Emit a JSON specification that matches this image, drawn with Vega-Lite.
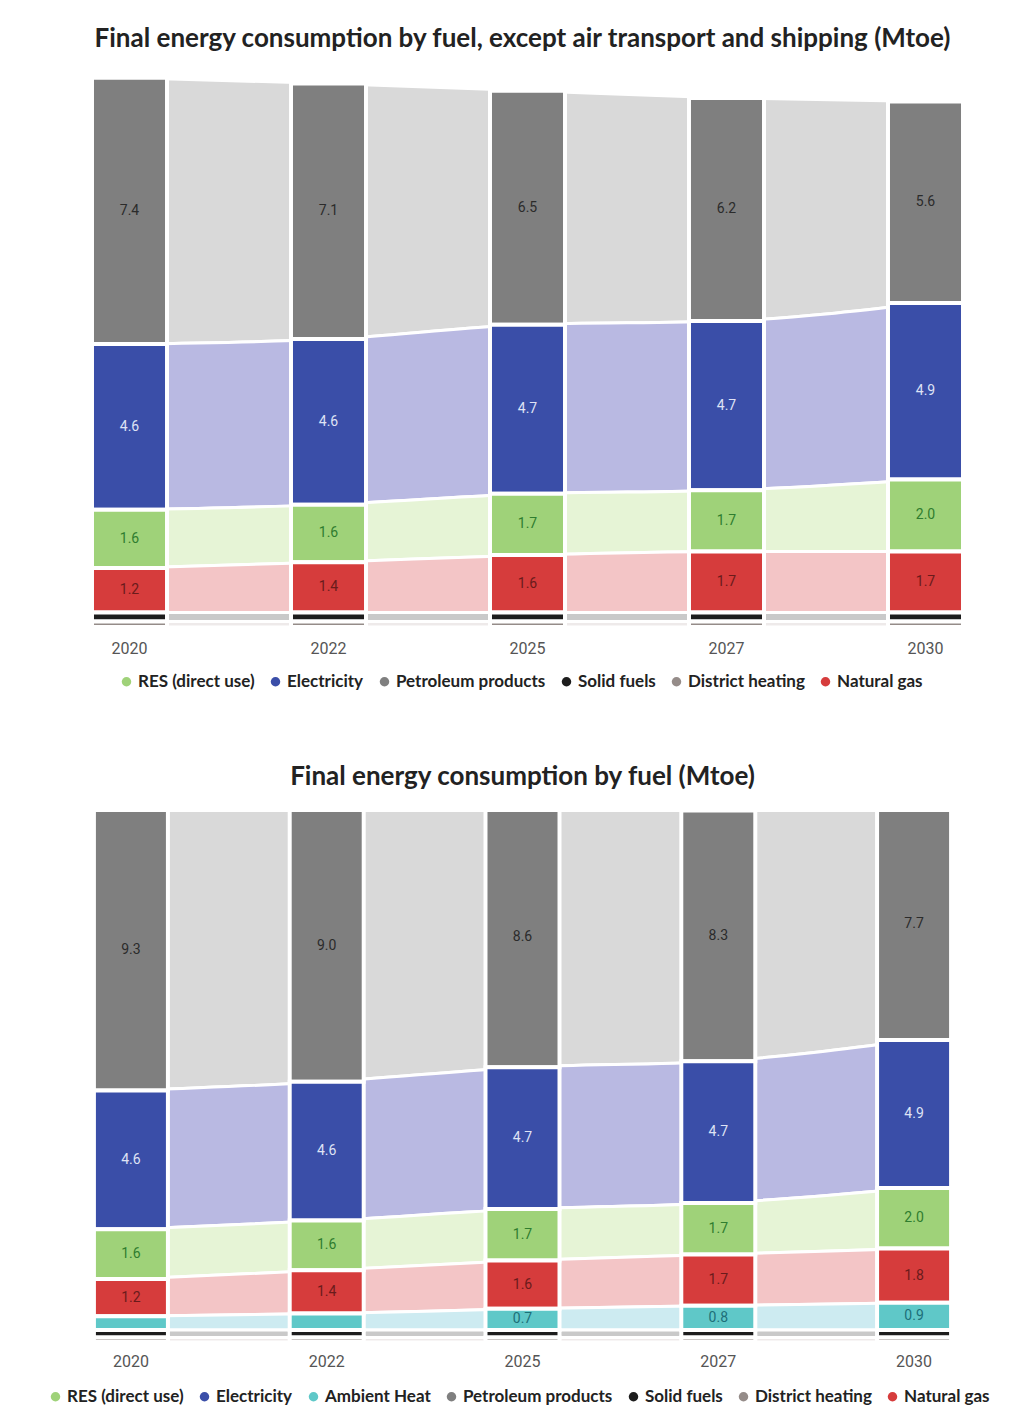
{
  "$schema": "https://vega.github.io/schema/vega-lite/v6.json",
  "background": "white",
  "padding": {"top": 25, "left": 47, "right": 5, "bottom": 5},
  "bounds": "flush",
  "spacing": 185,
  "config": {
    "view": {"stroke": null},
    "axis": {"domain": false, "ticks": false, "grid": false, "labelFont": "Roboto", "labelFontSize": 16, "labelColor": "#555", "labelAngle": 0, "title": null},
    "legend": {"padding": 0}
  },
  "datasets": {
    "fuelorder": [
      {"fuel": "District heating", "stackRank": 1},
      {"fuel": "Solid fuels", "stackRank": 2},
      {"fuel": "Ambient Heat", "stackRank": 3},
      {"fuel": "Natural gas", "stackRank": 4},
      {"fuel": "RES (direct use)", "stackRank": 5},
      {"fuel": "Electricity", "stackRank": 6},
      {"fuel": "Petroleum products", "stackRank": 7}
    ],
    "top": [
      {"year": "2020", "fuel": "Petroleum products", "value": 7.4},
      {"year": "2020", "fuel": "Electricity", "value": 4.6},
      {"year": "2020", "fuel": "RES (direct use)", "value": 1.62},
      {"year": "2020", "fuel": "Natural gas", "value": 1.24},
      {"year": "2020", "fuel": "Solid fuels", "value": 0.25},
      {"year": "2020", "fuel": "District heating", "value": 0.15},
      {"year": "2022", "fuel": "Petroleum products", "value": 7.1},
      {"year": "2022", "fuel": "Electricity", "value": 4.6},
      {"year": "2022", "fuel": "RES (direct use)", "value": 1.6},
      {"year": "2022", "fuel": "Natural gas", "value": 1.4},
      {"year": "2022", "fuel": "Solid fuels", "value": 0.25},
      {"year": "2022", "fuel": "District heating", "value": 0.15},
      {"year": "2025", "fuel": "Petroleum products", "value": 6.5},
      {"year": "2025", "fuel": "Electricity", "value": 4.7},
      {"year": "2025", "fuel": "RES (direct use)", "value": 1.7},
      {"year": "2025", "fuel": "Natural gas", "value": 1.6},
      {"year": "2025", "fuel": "Solid fuels", "value": 0.25},
      {"year": "2025", "fuel": "District heating", "value": 0.15},
      {"year": "2027", "fuel": "Petroleum products", "value": 6.2},
      {"year": "2027", "fuel": "Electricity", "value": 4.7},
      {"year": "2027", "fuel": "RES (direct use)", "value": 1.7},
      {"year": "2027", "fuel": "Natural gas", "value": 1.7},
      {"year": "2027", "fuel": "Solid fuels", "value": 0.25},
      {"year": "2027", "fuel": "District heating", "value": 0.15},
      {"year": "2030", "fuel": "Petroleum products", "value": 5.6},
      {"year": "2030", "fuel": "Electricity", "value": 4.9},
      {"year": "2030", "fuel": "RES (direct use)", "value": 2.0},
      {"year": "2030", "fuel": "Natural gas", "value": 1.7},
      {"year": "2030", "fuel": "Solid fuels", "value": 0.25},
      {"year": "2030", "fuel": "District heating", "value": 0.15}
    ],
    "bottom": [
      {"year": "2020", "fuel": "Petroleum products", "value": 9.3},
      {"year": "2020", "fuel": "Electricity", "value": 4.6},
      {"year": "2020", "fuel": "RES (direct use)", "value": 1.64},
      {"year": "2020", "fuel": "Natural gas", "value": 1.24},
      {"year": "2020", "fuel": "Ambient Heat", "value": 0.45},
      {"year": "2020", "fuel": "Solid fuels", "value": 0.25},
      {"year": "2020", "fuel": "District heating", "value": 0.15},
      {"year": "2022", "fuel": "Petroleum products", "value": 9.0},
      {"year": "2022", "fuel": "Electricity", "value": 4.6},
      {"year": "2022", "fuel": "RES (direct use)", "value": 1.64},
      {"year": "2022", "fuel": "Natural gas", "value": 1.44},
      {"year": "2022", "fuel": "Ambient Heat", "value": 0.54},
      {"year": "2022", "fuel": "Solid fuels", "value": 0.25},
      {"year": "2022", "fuel": "District heating", "value": 0.15},
      {"year": "2025", "fuel": "Petroleum products", "value": 8.6},
      {"year": "2025", "fuel": "Electricity", "value": 4.7},
      {"year": "2025", "fuel": "RES (direct use)", "value": 1.7},
      {"year": "2025", "fuel": "Natural gas", "value": 1.6},
      {"year": "2025", "fuel": "Ambient Heat", "value": 0.7},
      {"year": "2025", "fuel": "Solid fuels", "value": 0.25},
      {"year": "2025", "fuel": "District heating", "value": 0.15},
      {"year": "2027", "fuel": "Petroleum products", "value": 8.3},
      {"year": "2027", "fuel": "Electricity", "value": 4.7},
      {"year": "2027", "fuel": "RES (direct use)", "value": 1.7},
      {"year": "2027", "fuel": "Natural gas", "value": 1.7},
      {"year": "2027", "fuel": "Ambient Heat", "value": 0.8},
      {"year": "2027", "fuel": "Solid fuels", "value": 0.25},
      {"year": "2027", "fuel": "District heating", "value": 0.15},
      {"year": "2030", "fuel": "Petroleum products", "value": 7.7},
      {"year": "2030", "fuel": "Electricity", "value": 4.9},
      {"year": "2030", "fuel": "RES (direct use)", "value": 2.0},
      {"year": "2030", "fuel": "Natural gas", "value": 1.8},
      {"year": "2030", "fuel": "Ambient Heat", "value": 0.9},
      {"year": "2030", "fuel": "Solid fuels", "value": 0.25},
      {"year": "2030", "fuel": "District heating", "value": 0.15}
    ]
  },
  "vconcat": [
    {
      "data": {"name": "top"},
      "transform": [{"lookup": "fuel", "from": {"data": {"name": "fuelorder"}, "key": "fuel", "fields": ["stackRank"]}}],
      "width": 875,
      "height": 555,
      "title": {"text": "Final energy consumption by fuel, except air transport and shipping (Mtoe)", "font": "Lato", "fontSize": 26, "fontWeight": "bold", "color": "#222", "anchor": "middle", "offset": 20, "dx": -5},
      "encoding": {
        "x": {"field": "year", "type": "ordinal", "scale": {"paddingInner": 0.623, "paddingOuter": 0.01}, "axis": {"labelPadding": 13}},
        "order": {"field": "stackRank", "type": "quantitative", "sort": "ascending"}
      },
      "layer": [
        {
          "mark": {"type": "area", "interpolate": "monotone", "stroke": "white", "strokeWidth": 3, "opacity": 1},
          "encoding": {
            "y": {"field": "value", "type": "quantitative", "stack": "zero", "scale": {"domain": [0, 15.42], "nice": false}, "axis": null},
            "color": {"field": "fuel", "type": "nominal",
              "scale": {"domain": ["RES (direct use)", "Electricity", "Petroleum products", "Solid fuels", "District heating", "Natural gas"], "range": ["#e6f4d6", "#b9b9e2", "#d9d9d9", "#c9c9c9", "#eeeaea", "#f3c5c6"]}, "legend": null}
          }
        },
        {
          "mark": {"type": "bar", "stroke": "white", "strokeWidth": 4},
          "encoding": {
            "y": {"field": "value", "type": "quantitative", "stack": "zero", "scale": {"domain": [0, 15.42], "nice": false}, "axis": null},
            "color": {"field": "fuel", "type": "nominal",
              "scale": {"domain": ["RES (direct use)", "Electricity", "Petroleum products", "Solid fuels", "District heating", "Natural gas"], "range": ["#9fd279", "#3a4ea8", "#7f7f7f", "#1d1d1d", "#958c89", "#d63c3c"]},
              "legend": {"orient": "none", "legendX": 28, "legendY": 601, "direction": "horizontal", "title": null, "symbolType": "circle", "symbolSize": 90, "symbolStrokeWidth": 0, "labelFont": "Lato", "labelFontSize": 17, "labelFontWeight": "bold", "labelColor": "#222", "labelOffset": 3, "columnPadding": 12}}
          }
        },
        {
          "mark": {"type": "text", "font": "Roboto", "fontSize": 14},
          "encoding": {
            "y": {"field": "value", "type": "quantitative", "stack": "zero", "bandPosition": 0.5, "scale": {"domain": [0, 15.42], "nice": false}, "axis": null},
            "text": {"condition": {"test": "datum.value >= 0.6", "field": "value", "type": "quantitative", "format": ".1f"}, "value": ""},
            "color": {"field": "fuel", "type": "nominal",
              "scale": {"domain": ["RES (direct use)", "Electricity", "Petroleum products", "Solid fuels", "District heating", "Natural gas"], "range": ["#2f7d2f", "#dfe3f5", "#2b2b2b", "#000000", "#000000", "#6a1b1b"]}, "legend": null}
          }
        }
      ],
      "resolve": {"scale": {"color": "independent"}}
    },
    {
      "data": {"name": "bottom"},
      "transform": [{"lookup": "fuel", "from": {"data": {"name": "fuelorder"}, "key": "fuel", "fields": ["stackRank"]}}],
      "width": 865,
      "height": 530,
      "title": {"text": "Final energy consumption by fuel (Mtoe)", "font": "Lato", "fontSize": 26, "fontWeight": "bold", "color": "#222", "anchor": "middle", "offset": 22},
      "encoding": {
        "x": {"field": "year", "type": "ordinal", "scale": {"paddingInner": 0.622, "paddingOuter": 0.02}, "axis": {"labelPadding": 11}},
        "order": {"field": "stackRank", "type": "quantitative", "sort": "ascending"}
      },
      "layer": [
        {
          "mark": {"type": "area", "interpolate": "monotone", "stroke": "white", "strokeWidth": 3, "opacity": 1, "clip": true},
          "encoding": {
            "y": {"field": "value", "type": "quantitative", "stack": "zero", "scale": {"domain": [0, 17.55], "nice": false}, "axis": null},
            "color": {"field": "fuel", "type": "nominal",
              "scale": {"domain": ["RES (direct use)", "Electricity", "Ambient Heat", "Petroleum products", "Solid fuels", "District heating", "Natural gas"], "range": ["#e6f4d6", "#b9b9e2", "#cdebf1", "#d9d9d9", "#c9c9c9", "#eeeaea", "#f3c5c6"]}, "legend": null}
          }
        },
        {
          "mark": {"type": "bar", "stroke": "white", "strokeWidth": 4, "clip": true},
          "encoding": {
            "y": {"field": "value", "type": "quantitative", "stack": "zero", "scale": {"domain": [0, 17.55], "nice": false}, "axis": null},
            "color": {"field": "fuel", "type": "nominal",
              "scale": {"domain": ["RES (direct use)", "Electricity", "Ambient Heat", "Petroleum products", "Solid fuels", "District heating", "Natural gas"], "range": ["#9fd279", "#3a4ea8", "#5fc8c8", "#7f7f7f", "#1d1d1d", "#958c89", "#d63c3c"]},
              "legend": {"orient": "none", "legendX": -43, "legendY": 576, "direction": "horizontal", "title": null, "symbolType": "circle", "symbolSize": 90, "symbolStrokeWidth": 0, "labelFont": "Lato", "labelFontSize": 17, "labelFontWeight": "bold", "labelColor": "#222", "labelOffset": 3, "columnPadding": 12}}
          }
        },
        {
          "mark": {"type": "text", "font": "Roboto", "fontSize": 14},
          "encoding": {
            "y": {"field": "value", "type": "quantitative", "stack": "zero", "bandPosition": 0.5, "scale": {"domain": [0, 17.55], "nice": false}, "axis": null},
            "text": {"condition": {"test": "datum.value >= 0.6", "field": "value", "type": "quantitative", "format": ".1f"}, "value": ""},
            "color": {"field": "fuel", "type": "nominal",
              "scale": {"domain": ["RES (direct use)", "Electricity", "Ambient Heat", "Petroleum products", "Solid fuels", "District heating", "Natural gas"], "range": ["#2f7d2f", "#dfe3f5", "#1d6f78", "#2b2b2b", "#000000", "#000000", "#6a1b1b"]}, "legend": null}
          }
        }
      ],
      "resolve": {"scale": {"color": "independent"}}
    }
  ],
  "resolve": {"scale": {"color": "independent"}, "legend": {"color": "independent"}}
}
